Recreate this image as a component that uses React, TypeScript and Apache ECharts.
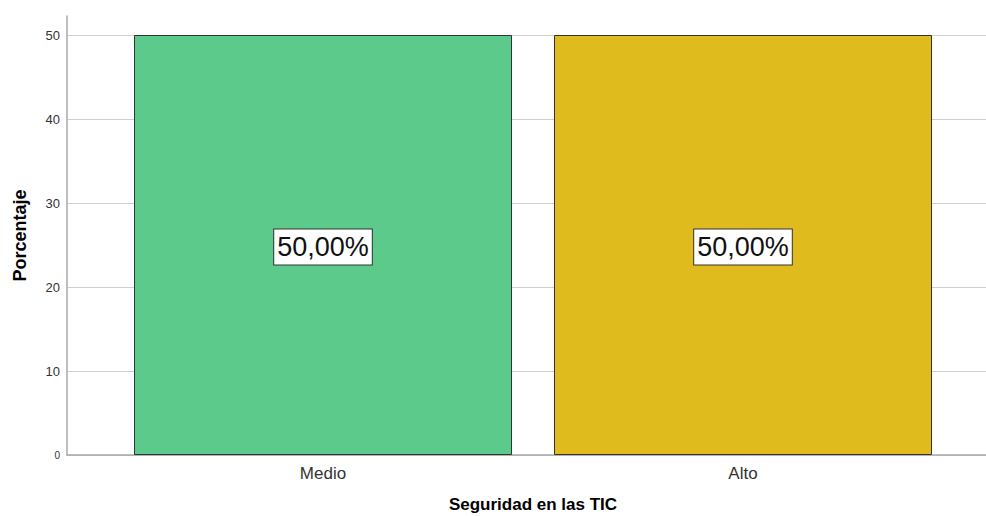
import React, { useEffect, useRef } from "react";
import * as echarts from "echarts";

const categories = ["Medio", "Alto"];
const values = [50, 50];
const barColors = ["#5BCA8A", "#E0BB1E"];
const yTicks = [0, 10, 20, 30, 40, 50];
const xTitle = "Seguridad en las TIC";
const yTitle = "Porcentaje";

const FONT = "'Liberation Sans', Arial, sans-serif";

export default function App() {
  const ref = useRef<HTMLDivElement>(null);
  useEffect(() => {
    if (!ref.current) return;
    const chart = echarts.init(ref.current, undefined, { renderer: "svg" });
    const yMax = yTicks[yTicks.length - 1];
    chart.setOption({
      animation: false,
      backgroundColor: "#fff",
      textStyle: { fontFamily: FONT },
      grid: [
        { left: 67, right: 0, top: 16, bottom: 61, outerBoundsMode: "none", containLabel: false },
        { left: 67, right: 0, top: 35, bottom: 61, outerBoundsMode: "none", containLabel: false },
        { left: 113, right: 33, top: 35, bottom: 61, outerBoundsMode: "none", containLabel: false },
      ],
      xAxis: [
        {
          gridIndex: 0,
          type: "value",
          min: 0,
          max: 1,
          axisLine: { show: true, lineStyle: { color: "#a8a8a8", width: 1.5 } },
          axisTick: { show: false },
          axisLabel: { show: false },
          splitLine: { show: false },
        },
        {
          gridIndex: 1,
          type: "value",
          min: 0,
          max: 1,
          show: false,
        },
        {
          gridIndex: 2,
          type: "category",
          data: categories,
          axisLine: { show: false },
          axisTick: { show: false },
          axisLabel: { color: "#333", fontSize: 17, margin: 10, fontFamily: FONT },
          name: xTitle,
          nameLocation: "middle",
          nameGap: 41,
          nameTextStyle: { color: "#000", fontSize: 17, fontWeight: "bold", fontFamily: FONT },
        },
      ],
      yAxis: [
        {
          gridIndex: 0,
          type: "value",
          min: 0,
          max: 52.26,
          axisLine: { show: true, lineStyle: { color: "#a8a8a8", width: 1.5 } },
          axisTick: { show: false },
          axisLabel: { show: false },
          splitLine: { show: false },
          name: yTitle,
          nameLocation: "middle",
          nameGap: 38,
          nameRotate: 90,
          nameTextStyle: { color: "#000", fontSize: 18, fontWeight: "bold", fontFamily: FONT },
        },
        {
          gridIndex: 1,
          type: "value",
          min: 0,
          max: yMax,
          interval: 10,
          axisLine: { show: false },
          axisTick: { show: false },
          axisLabel: {
            color: "#333",
            fontSize: 13,
            margin: 7,
            fontFamily: FONT,
            formatter: (v: number) => (v === 0 ? "{s|0}" : String(v)),
            rich: { s: { fontSize: 10, color: "#333", fontFamily: FONT } },
          },
          splitLine: { show: true, lineStyle: { color: "#cfcfcf", width: 1 } },
        },
        {
          gridIndex: 2,
          type: "value",
          min: 0,
          max: yMax,
          show: false,
        },
      ],
      series: [
        {
          type: "bar",
          xAxisIndex: 2,
          yAxisIndex: 2,
          barCategoryGap: "10%",
          data: values.map((v, i) => ({
            value: v,
            itemStyle: { color: barColors[i], borderColor: "#333", borderWidth: 1 },
          })),
          label: {
            show: true,
            position: "inside",
            offset: [0, 2],
            formatter: (p: any) => p.value.toFixed(2).replace(".", ",") + "%",
            fontSize: 27,
            color: "#111",
            fontFamily: FONT,
            backgroundColor: "#fff",
            borderColor: "#333",
            borderWidth: 1,
            padding: [5, 3, 3, 3],
          },
        },
      ],
    });
    return () => chart.dispose();
  }, []);
  return (
    <div
      ref={ref}
      style={{ position: "fixed", left: 0, top: 0, width: 986, height: 516 }}
    />
  );
}
